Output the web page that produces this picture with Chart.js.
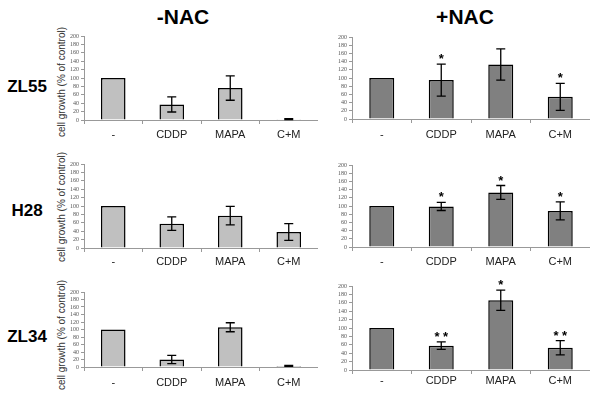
<!DOCTYPE html>
<html lang="en">
<head>
  <meta charset="UTF-8">
  <title>Cell growth -NAC / +NAC</title>
  <script src="https://cdn.jsdelivr.net/npm/chart.js"></script>
  <style>
    body { margin: 0; background: #fff; }
    #fig { position: relative; width: 600px; height: 402px; overflow: hidden; font-family: "Liberation Sans", Arial, sans-serif; }
    .panel { position: absolute; }
    .lbl { position: absolute; font-weight: bold; color: #000; transform: translate(-50%, -50%); white-space: nowrap; }
    .head { font-size: 21px; }
    .row { font-size: 17px; }
    .ytitle { position: absolute; font-size: 10px; color: #333; white-space: nowrap; transform: translate(-50%, -50%) rotate(-90deg); }
  </style>
</head>
<body>
  <div id="fig">
    <div class="lbl head" style="left:183px; top:17px;">-NAC</div>
    <div class="lbl head" style="left:465px; top:17px;">+NAC</div>
    <div class="lbl row" style="left:27px; top:87px;">ZL55</div>
    <div class="lbl row" style="left:27px; top:211px;">H28</div>
    <div class="lbl row" style="left:27px; top:337px;">ZL34</div>
    <div class="ytitle" style="left:61px; top:82px;">cell growth (% of control)</div>
    <div class="ytitle" style="left:61px; top:207px;">cell growth (% of control)</div>
    <div class="ytitle" style="left:61px; top:335px;">cell growth (% of control)</div>
  </div>

  <script>
    // data (% of control)
    const categories = ['-', 'CDDP', 'MAPA', 'C+M'];
    const yMax = 200;
    const yStep = 20;

    const zl55Minus = [100, 37, 76, 2];
    const zl55MinusErr = [0, 18, 29, 1];
    const zl55Plus = [100, 95, 133, 54];
    const zl55PlusErr = [0, 39, 38, 33];
    const zl55PlusStars = ['', '*', '', '*'];

    const h28Minus = [100, 58, 77, 38];
    const h28MinusErr = [0, 16, 22, 20];
    const h28Plus = [100, 99, 133, 88];
    const h28PlusErr = [0, 10, 17, 22];
    const h28PlusStars = ['', '*', '*', '*'];

    const zl34Minus = [100, 20, 106, 3];
    const zl34MinusErr = [0, 11, 12, 1];
    const zl34Plus = [100, 58, 166, 53];
    const zl34PlusErr = [0, 9, 24, 17];
    const zl34PlusStars = ['', '* *', '*', '* *'];

    const noStars = ['', '', '', ''];
    const lightGrey = '#c0c0c0';
    const darkGrey = '#808080';

    // panel boxes: where the plot area goes on the page
    const panels = [
      { vals: zl55Minus, errs: zl55MinusErr, stars: noStars, fill: lightGrey, left: 50, top: 36, right: 318, bottom: 120, gap: 4 },
      { vals: zl55Plus, errs: zl55PlusErr, stars: zl55PlusStars, fill: darkGrey, left: 320, top: 37, right: 590, bottom: 119, gap: 5 },
      { vals: h28Minus, errs: h28MinusErr, stars: noStars, fill: lightGrey, left: 50, top: 164, right: 318, bottom: 248, gap: 3 },
      { vals: h28Plus, errs: h28PlusErr, stars: h28PlusStars, fill: darkGrey, left: 320, top: 165, right: 590, bottom: 247, gap: 4 },
      { vals: zl34Minus, errs: zl34MinusErr, stars: noStars, fill: lightGrey, left: 50, top: 292, right: 318, bottom: 367, gap: 5 },
      { vals: zl34Plus, errs: zl34PlusErr, stars: zl34PlusStars, fill: darkGrey, left: 320, top: 286, right: 590, bottom: 370, gap: 0 }
    ];

    const padTop = 6;
    const xAxisH = 30;

    // error bars and significance stars
    const errorBars = {
      id: 'errorBars',
      afterDatasetsDraw(chart, args, opts) {
        const ctx = chart.ctx;
        const y = chart.scales.y;
        const meta = chart.getDatasetMeta(0);
        ctx.save();
        ctx.strokeStyle = '#000';
        ctx.lineWidth = 1.3;
        meta.data.forEach(function(bar, i) {
          const v = opts.vals[i];
          const e = opts.errs[i];
          const yTop = y.getPixelForValue(v + e);
          if (e > 0) {
            const yBot = y.getPixelForValue(Math.max(v - e, 0));
            ctx.beginPath();
            ctx.moveTo(bar.x, yTop); ctx.lineTo(bar.x, yBot);
            ctx.moveTo(bar.x - 4.5, yTop); ctx.lineTo(bar.x + 4.5, yTop);
            ctx.moveTo(bar.x - 4.5, yBot); ctx.lineTo(bar.x + 4.5, yBot);
            ctx.stroke();
          }
          if (opts.stars[i]) {
            ctx.fillStyle = '#000';
            ctx.font = 'bold 13px "Liberation Sans", Arial, sans-serif';
            ctx.textAlign = 'center';
            ctx.textBaseline = 'alphabetic';
            ctx.fillText(opts.stars[i], bar.x, yTop - 1);
          }
        });
        ctx.restore();
      }
    };

    panels.forEach(function(p) {
      const yw = p.left < 300 ? 34 : 32;
      const plotH = p.bottom - p.top;
      const div = document.createElement('div');
      div.className = 'panel';
      const w = p.right - p.left;
      const h = padTop + plotH + xAxisH;
      div.style.left = p.left + 'px';
      div.style.top = (p.top - padTop) + 'px';
      div.style.width = w + 'px';
      div.style.height = h + 'px';
      const canvas = document.createElement('canvas');
      canvas.width = w;
      canvas.height = h;
      div.appendChild(canvas);
      document.getElementById('fig').appendChild(div);

      new Chart(canvas.getContext('2d'), {
        type: 'bar',
        data: {
          labels: categories,
          datasets: [{
            data: p.vals,
            backgroundColor: p.fill,
            borderColor: '#000',
            borderWidth: 1.5,
            categoryPercentage: 1,
            barPercentage: 0.42
          }]
        },
        options: {
          responsive: false,
          animation: false,
          layout: { padding: { top: padTop, left: 0, right: 0, bottom: 0 } },
          plugins: {
            legend: { display: false },
            tooltip: { enabled: false },
            errorBars: { vals: p.vals, errs: p.errs, stars: p.stars }
          },
          scales: {
            x: {
              grid: { drawOnChartArea: false, tickLength: 4, color: '#999' },
              border: { color: '#999' },
              ticks: { color: '#222', padding: p.gap, font: { family: '"Liberation Sans", Arial, sans-serif', size: 11 } },
              afterFit: function(s) { s.height = xAxisH; }
            },
            y: {
              min: 0,
              max: yMax,
              ticks: { stepSize: yStep, autoSkip: false, color: '#555', padding: 2, font: { family: '"Liberation Serif", serif', size: 6 } },
              grid: { drawOnChartArea: false, tickLength: 3, color: '#999' },
              border: { color: '#999' },
              afterFit: function(s) { s.width = yw; }
            }
          }
        },
        plugins: [errorBars]
      });
    });
  </script>
</body>
</html>
